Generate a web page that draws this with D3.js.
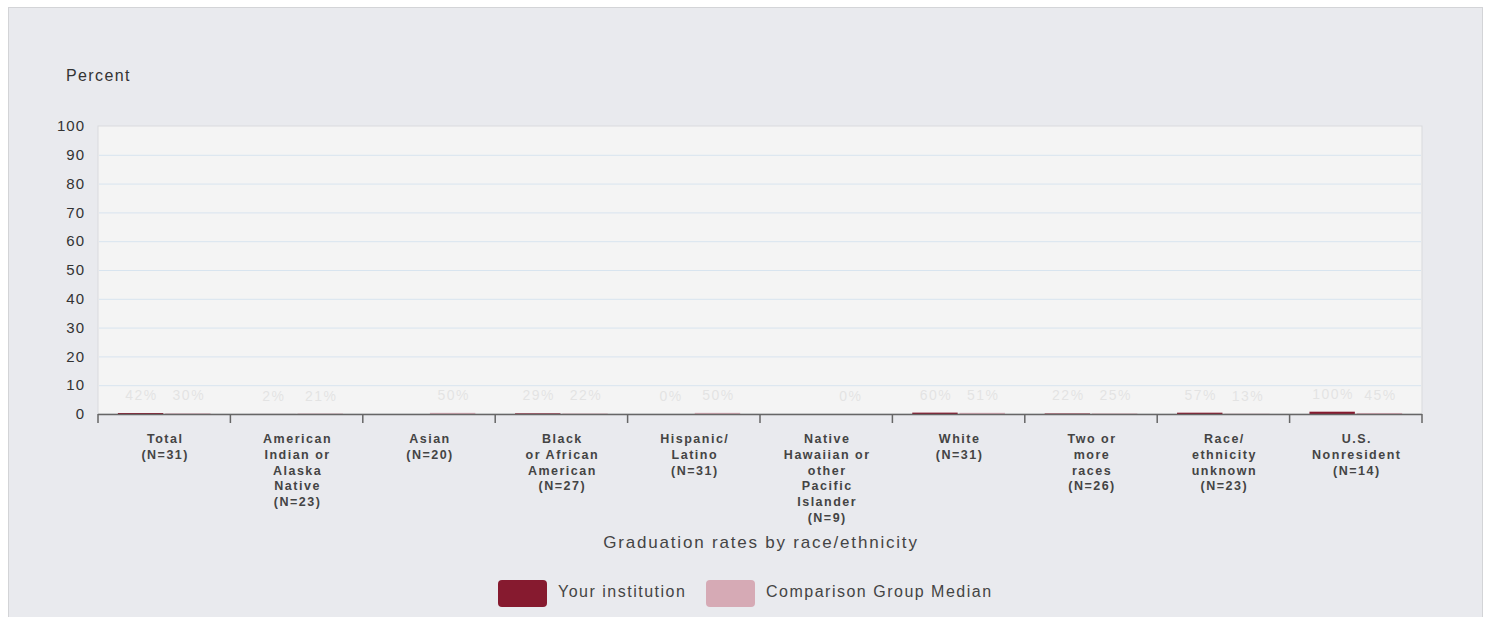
<!DOCTYPE html>
<html>
<head>
<meta charset="utf-8">
<script src="https://cdn.jsdelivr.net/npm/d3@7"></script>
<style>
  body { margin: 0; background: #fff; font-family: "Liberation Sans", Arial, sans-serif; }
  .panel { position: absolute; left: 8px; top: 7px; width: 1475px; height: 620px;
           background: #e9eaee; border: 1px solid #d3d4d7; box-sizing: border-box; }
</style>
</head>
<body>
<div class="panel"></div>
<script>
const categories = [
  ["Total", "(N=31)"],
  ["American", "Indian or", "Alaska", "Native", "(N=23)"],
  ["Asian", "(N=20)"],
  ["Black", "or African", "American", "(N=27)"],
  ["Hispanic/", "Latino", "(N=31)"],
  ["Native", "Hawaiian or", "other", "Pacific", "Islander", "(N=9)"],
  ["White", "(N=31)"],
  ["Two or", "more", "races", "(N=26)"],
  ["Race/", "ethnicity", "unknown", "(N=23)"],
  ["U.S.", "Nonresident", "(N=14)"]
];
const institution = [42, 2, null, 29, 0, null, 60, 22, 57, 100];
const comparison = [30, 21, 50, 22, 50, 0, 51, 25, 13, 45];
const seriesNames = ["Your institution", "Comparison Group Median"];
const seriesColors = ["#861a2f", "#d6aab5"];
const yTicks = [0, 10, 20, 30, 40, 50, 60, 70, 80, 90, 100];

// picture caught at the very start of the grow-in animation
const growth = 0.008;
const labelFade = 0.1;

const width = 1489, height = 617;
const margin = { left: 98, right: 67, top: 126, bottom: 203 };

const svg = d3.select("body").append("svg")
  .attr("width", width).attr("height", height)
  .style("position", "absolute").style("left", 0).style("top", 0);

const x = d3.scaleBand()
  .domain(d3.range(categories.length))
  .range([margin.left, width - margin.right]);

const inner = d3.scaleBand()
  .domain([0, 1])
  .range([0, x.bandwidth()])
  .paddingInner(0.04)
  .paddingOuter(0.42);

const y = d3.scaleLinear().domain([0, 100]).range([height - margin.bottom, margin.top]);

// plot background
svg.append("rect")
  .attr("x", margin.left).attr("y", margin.top)
  .attr("width", width - margin.right - margin.left)
  .attr("height", y(0) - margin.top)
  .attr("fill", "#f4f4f4")
  .attr("stroke", "#d9dadd");

// grid
svg.append("g").selectAll("line")
  .data(yTicks.slice(1, -1))
  .join("line")
  .attr("x1", margin.left + 1).attr("x2", width - margin.right - 1)
  .attr("y1", d => y(d) + 0.5).attr("y2", d => y(d) + 0.5)
  .attr("stroke", "#d8e4ef");

// y labels
svg.append("g").selectAll("text")
  .data(yTicks)
  .join("text")
  .attr("x", 85).attr("y", d => y(d))
  .attr("dy", "0.35em")
  .attr("text-anchor", "end")
  .attr("font-size", 15)
  .attr("letter-spacing", 1)
  .attr("fill", "#333")
  .text(d => d);

svg.append("text")
  .attr("x", 66).attr("y", 81)
  .attr("font-size", 16).attr("letter-spacing", 1.4).attr("fill", "#333")
  .text("Percent");

// bars
const series = [institution, comparison];
series.forEach((vals, s) => {
  const g = svg.append("g");
  const data = vals.map((v, i) => ({ v, i })).filter(d => d.v !== null);
  g.selectAll("rect")
    .data(data)
    .join("rect")
    .attr("x", d => x(d.i) + inner(s))
    .attr("width", inner.bandwidth())
    .attr("y", d => y(0) - (y(0) - y(d.v)) * growth)
    .attr("height", d => (y(0) - y(d.v)) * growth)
    .attr("fill", seriesColors[s]);
  g.selectAll("text")
    .data(data)
    .join("text")
    .attr("x", d => x(d.i) + inner(s) + inner.bandwidth() / 2 + 1)
    .attr("y", d => y(0) - (y(0) - y(d.v)) * growth - 13)
    .attr("text-anchor", "middle")
    .attr("font-size", 14)
    .attr("letter-spacing", 1.5)
    .attr("fill", "#555")
    .attr("opacity", labelFade)
    .text(d => d.v + "%");
});

// x axis
const xAxis = svg.append("g");
xAxis.append("line")
  .attr("x1", margin.left).attr("x2", width - margin.right)
  .attr("y1", y(0) + 0.5).attr("y2", y(0) + 0.5)
  .attr("stroke", "#666").attr("stroke-width", 1.5);
xAxis.selectAll(".tick")
  .data(d3.range(categories.length + 1))
  .join("line")
  .attr("x1", i => i < categories.length ? x(i) : x(i - 1) + x.bandwidth())
  .attr("x2", i => i < categories.length ? x(i) : x(i - 1) + x.bandwidth())
  .attr("y1", y(0)).attr("y2", y(0) + 9)
  .attr("stroke", "#666").attr("stroke-width", 1.5);

xAxis.selectAll(".cat")
  .data(categories)
  .join("text")
  .attr("text-anchor", "middle")
  .attr("font-size", 12.5)
  .attr("font-weight", "bold")
  .attr("letter-spacing", 1.5)
  .attr("fill", "#444")
  .each(function (lines, i) {
    d3.select(this).selectAll("tspan")
      .data(lines)
      .join("tspan")
      .attr("x", x(i) + x.bandwidth() / 2 + 1)
      .attr("y", (d, k) => 443 + k * 15.8)
      .text(d => d);
  });

svg.append("text")
  .attr("x", 761).attr("y", 548)
  .attr("text-anchor", "middle")
  .attr("font-size", 17).attr("letter-spacing", 1.8).attr("fill", "#444")
  .text("Graduation rates by race/ethnicity");

// legend
const legendX = [498, 706];
const legend = svg.append("g").selectAll("g")
  .data(seriesNames)
  .join("g")
  .attr("transform", (d, i) => `translate(${legendX[i]},580)`);
legend.append("rect")
  .attr("width", 49).attr("height", 27).attr("rx", 4)
  .attr("fill", (d, i) => seriesColors[i]);
legend.append("text")
  .attr("x", 60).attr("y", 11.5).attr("dy", "0.35em")
  .attr("font-size", 16).attr("letter-spacing", 1.5).attr("fill", "#444")
  .text(d => d);
</script>
</body>
</html>
